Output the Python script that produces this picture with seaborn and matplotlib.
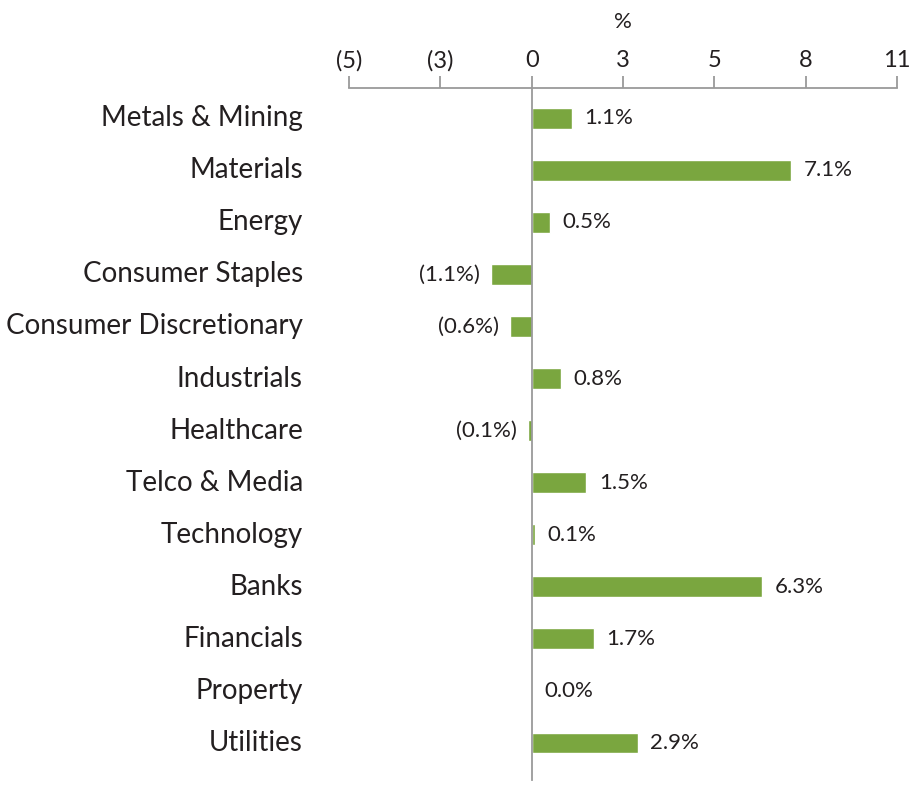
import pandas as pd
import matplotlib.pyplot as plt
import matplotlib.transforms as mtransforms
import seaborn as sns

# sector returns (%)
sectors = ['Metals & Mining', 'Materials', 'Energy', 'Consumer Staples',
           'Consumer Discretionary', 'Industrials', 'Healthcare', 'Telco & Media',
           'Technology', 'Banks', 'Financials', 'Property', 'Utilities']
returns = [1.1, 7.1, 0.5, -1.1, -0.6, 0.8, -0.1, 1.5, 0.1, 6.3, 1.7, 0.0, 2.9]

x_ticks = [-5, -2.5, 0, 2.5, 5, 7.5, 10]
x_tick_labels = ['(5)', '(3)', '0', '3', '5', '8', '11']

bar_color = '#7aa63f'
axis_color = '#9a9a9a'
text_color = '#231f20'

sns.set_theme(style='white')
plt.rcParams['font.family'] = ['Lato', 'DejaVu Sans']

df = pd.DataFrame({'sector': sectors, 'ret': returns})

fig = plt.figure(figsize=(9.17, 7.88), dpi=100)
ax = fig.add_axes([349 / 917, 1 - 780 / 788, 548 / 917, (780 - 88) / 788])

sns.barplot(data=df, x='ret', y='sector', orient='h', color=bar_color,
            width=0.4, saturation=1, ax=ax)

ax.set_xlim(-5, 10)
ax.set_ylim(12.71, -0.58)

# top axis
ax.xaxis.tick_top()
ax.xaxis.set_label_position('top')
ax.set_xticks(x_ticks)
ax.set_xticklabels(x_tick_labels)
ax.tick_params(axis='x', direction='out', length=9, width=1.3, color=axis_color,
               labelsize=17, labelcolor=text_color, pad=3)
ax.set_xlabel('%', fontsize=16, color=text_color, labelpad=16)

# vertical axis at zero with ticks between categories
ax.spines['left'].set_position(('data', 0))
ax.set_yticks([i + 0.5 for i in range(-1, len(sectors))])
ax.set_yticklabels([])
ax.tick_params(axis='y', direction='out', length=5, width=1.3, color=axis_color)
ax.set_ylabel('')

for side in ['bottom', 'right']:
    ax.spines[side].set_visible(False)
for side in ['top', 'left']:
    ax.spines[side].set_color(axis_color)
    ax.spines[side].set_linewidth(1.3)

# category names
trans = mtransforms.blended_transform_factory(ax.transAxes, ax.transData)
for i, name in enumerate(sectors):
    ax.text(-0.084, i, name, transform=trans, ha='right', va='center',
            fontsize=20, color=text_color)

# value labels
for i, v in enumerate(returns):
    if v < 0:
        label = '({:.1f}%)'.format(abs(v))
        ax.annotate(label, (v, i), xytext=(-8, 0), textcoords='offset points',
                    ha='right', va='center', fontsize=16, color=text_color)
    else:
        label = '{:.1f}%'.format(v)
        ax.annotate(label, (v, i), xytext=(9, 0), textcoords='offset points',
                    ha='left', va='center', fontsize=16, color=text_color)

fig.savefig('out.png', dpi=100)
